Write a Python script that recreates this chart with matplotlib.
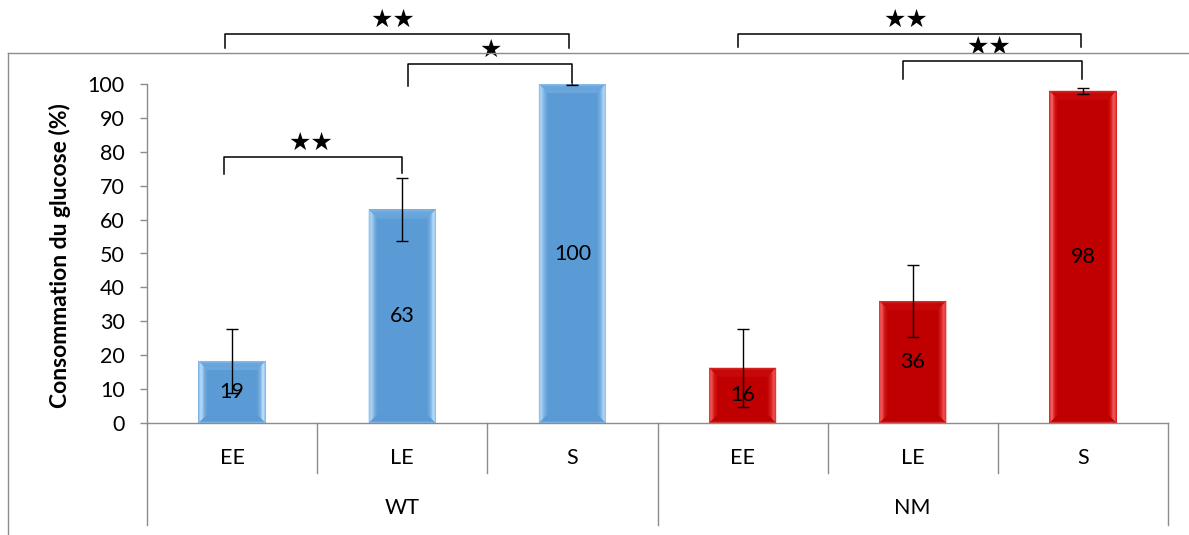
import matplotlib
matplotlib.use("Agg")
import matplotlib.pyplot as plt
from matplotlib.patches import Polygon
from matplotlib.lines import Line2D
import matplotlib.colors as mcolors
import numpy as np

# ---------------- data ----------------
groups = ["WT", "NM"]
categories = ["EE", "LE", "S", "EE", "LE", "S"]
values = [18.3, 63.0, 100.0, 16.3, 36.0, 98.0]
errors = [9.5, 9.2, 0.3, 11.5, 10.6, 0.85]
value_labels = ["19", "63", "100", "16", "36", "98"]
group_of_bar = [0, 0, 0, 1, 1, 1]
yticks = [0, 10, 20, 30, 40, 50, 60, 70, 80, 90, 100]
ylabel = "Consommation du glucose (%)"
# significance brackets: (bar i, bar j, stars)
brackets = [(0, 2, "★★"), (1, 2, "★"), (0, 1, "★★"), (3, 5, "★★"), (4, 5, "★★")]

# ---------------- style ----------------
W, H, DPI = 11.89, 5.35, 100
FONT = ["Lato", "DejaVu Sans"]
plt.rcParams["font.family"] = FONT
GRAY = "#8c8c8c"
FS = 15.5
group_colors = ["#5B9BD5", "#C00000"]
bevel_cols = {
    0: dict(edge="#93C3EC", hi="#CBE8FF", mid="#86B8E6", top="#6DA9DE", bot="#5A99D3"),
    1: dict(edge="#E23A3A", hi="#FF6E6E", mid="#D92222", top="#C80A0A", bot="#BE0000"),
}

fig = plt.figure(figsize=(W, H), dpi=DPI)
ax_left, ax_right, ax_top, ax_bot = 147, 1168, 84, 423
ax = fig.add_axes([ax_left / 1189, (535 - ax_bot) / 535,
                   (ax_right - ax_left) / 1189, (ax_bot - ax_top) / 535])
n = len(values)
x = np.arange(n)
ax.set_xlim(-0.5, n - 0.5)
ax.set_ylim(0, 100)

bw = 0.395
cols = [group_colors[g] for g in group_of_bar]
ax.bar(x, values, width=bw, color=cols, zorder=2, linewidth=0)

# bevel effect
px_x = (ax_right - ax_left) / n          # pixels per category
px_y = (ax_bot - ax_top) / 100.0         # pixels per unit
bx, by = 9 / px_x, 9 / px_y

def mix(c1, c2, t):
    a = np.array(mcolors.to_rgb(c1)); b = np.array(mcolors.to_rgb(c2))
    return tuple(a + (b - a) * t)

def side_color(t, bc, body):
    stops = [(0.0, bc["edge"]), (0.3, bc["hi"]), (0.6, bc["mid"]), (1.0, body)]
    for (t0, c0), (t1, c1) in zip(stops[:-1], stops[1:]):
        if t <= t1:
            return mix(c0, c1, (t - t0) / (t1 - t0))
    return mcolors.to_rgb(body)

for i in range(n):
    g = group_of_bar[i]
    body = group_colors[g]
    bc = bevel_cols[g]
    x0, x1, h = x[i] - bw / 2, x[i] + bw / 2, values[i]
    steps = 10
    for k in range(steps):
        t0, t1 = k / steps, (k + 1) / steps
        c = side_color((t0 + t1) / 2, bc, body)
        ax.add_patch(Polygon([(x0 + t0 * bx, t0 * by), (x0 + t1 * bx, t1 * by),
                              (x0 + t1 * bx, h - t1 * by), (x0 + t0 * bx, h - t0 * by)],
                             closed=True, fc=c, ec="none", zorder=2.2))
        ax.add_patch(Polygon([(x1 - t0 * bx, t0 * by), (x1 - t1 * bx, t1 * by),
                              (x1 - t1 * bx, h - t1 * by), (x1 - t0 * bx, h - t0 * by)],
                             closed=True, fc=c, ec="none", zorder=2.2))
        ct = mix(bc["edge"], bc["top"], min(1, (t0 + t1) / 2 * 3))
        ax.add_patch(Polygon([(x0 + t0 * bx, h - t0 * by), (x1 - t0 * bx, h - t0 * by),
                              (x1 - t1 * bx, h - t1 * by), (x0 + t1 * bx, h - t1 * by)],
                             closed=True, fc=ct, ec="none", zorder=2.1))
        cb = mix(bc["edge"], bc["bot"], min(1, (t0 + t1) / 2 * 4))
        ax.add_patch(Polygon([(x0 + t0 * bx, t0 * by), (x1 - t0 * bx, t0 * by),
                              (x1 - t1 * bx, t1 * by), (x0 + t1 * bx, t1 * by)],
                             closed=True, fc=cb, ec="none", zorder=2.1))

# error bars
ax.errorbar(x, values, yerr=errors, fmt="none", ecolor="black", elinewidth=1.0,
            capsize=4.3, capthick=1.0, zorder=4)

# value labels
for i in range(n):
    ax.text(x[i], values[i] / 2, value_labels[i], ha="center", va="center",
            fontsize=FS, color="black", zorder=3)

# axes styling
for s in ["top", "right"]:
    ax.spines[s].set_visible(False)
ax.spines["left"].set_color(GRAY)
ax.spines["bottom"].set_color(GRAY)
ax.spines["left"].set_linewidth(1.0)
ax.spines["bottom"].set_linewidth(1.0)
ax.set_yticks(yticks)
ax.tick_params(axis="y", direction="out", length=5, width=1, color=GRAY,
               labelsize=FS, pad=11)
ax.set_xticks([])

# multi-level category axis
tr = ax.get_xaxis_transform()
for i, c in enumerate(categories):
    ax.text(x[i], -0.103, c, transform=tr, ha="center", va="center", fontsize=FS)
ng = len(groups)
per = n // ng
for gi, gname in enumerate(groups):
    cx = np.mean(x[gi * per:(gi + 1) * per])
    ax.text(cx, -0.251, gname, transform=tr, ha="center", va="center", fontsize=FS)
for i in range(1, n):
    xs = i - 0.5
    long_ = (i % per == 0)
    ax.add_line(Line2D([xs, xs], [0, -0.301 if long_ else -0.1475], transform=tr,
                       color=GRAY, lw=1.0, clip_on=False))
for xs in [-0.5, n - 0.5]:
    ax.add_line(Line2D([xs, xs], [0, -0.301], transform=tr, color=GRAY, lw=1.0,
                       clip_on=False))

# y label
fig.text(60 / 1189, (535 - 256) / 535, ylabel, rotation=90, ha="center", va="center",
         fontsize=16.5, fontweight="bold")

# outer chart frame (partially visible)
fig.add_artist(Line2D([8 / 1189, 1.0], [(535 - 53) / 535] * 2, color=GRAY, lw=1.0,
                      transform=fig.transFigure))
fig.add_artist(Line2D([8 / 1189] * 2, [0, (535 - 53) / 535], color=GRAY, lw=1.0,
                      transform=fig.transFigure))

# significance brackets
br_geom = [
    # (x_left, x_right, y_line, y_leg_left, y_leg_right)
    (-0.044, 1.98, 114.7, 110.6, 110.6),
    (1.034, 1.997, 105.9, 99.4, 100.3),
    (-0.047, 0.998, 78.5, 73.5, 73.7),
    (2.973, 4.989, 114.7, 110.9, 110.9),
    (3.945, 4.995, 106.8, 101.5, 101.5),
]
star_x = [0.946, 1.52, 0.464, 3.96, 4.448]
for (i, j, stars), (xl, xr, yl, lgl, lgr), sx in zip(brackets, br_geom, star_x):
    ax.add_line(Line2D([xl, xl, xr, xr], [lgl, yl, yl, lgr], color="black", lw=1.1,
                       solid_joinstyle="round", clip_on=False, zorder=5))
    ax.text(sx, yl + 0.6, stars, ha="center", va="bottom", fontsize=18,
            family=["DejaVu Sans"], clip_on=False)

fig.savefig("out.png", dpi=DPI)
